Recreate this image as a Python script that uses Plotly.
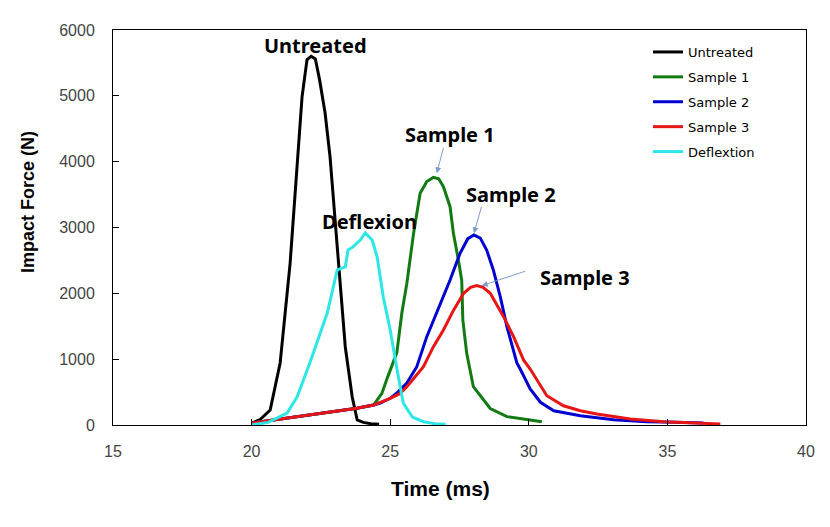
import plotly.graph_objects as go

# ---- data ----
untreated_t = [20.0, 20.3, 20.67, 21.03, 21.39, 21.68, 21.82, 22.0, 22.15, 22.3, 22.45, 22.65, 22.83, 23.09, 23.38, 23.63, 23.81, 24.03, 24.3, 24.6]
untreated_f = [30, 80, 228, 942, 2460, 4225, 4985, 5550, 5600, 5560, 5250, 4742, 4073, 2705, 1185, 425, 76, 40, 20, 10]

sample1_t = [20.0, 21.0, 22.0, 23.0, 23.8, 24.4, 24.7, 24.9, 25.24, 25.42, 25.6, 25.84, 26.08, 26.32, 26.56, 26.75, 26.92, 27.16, 27.28, 27.46, 27.58, 27.62, 27.76, 28.0, 28.25, 28.61, 29.21, 30.05, 30.47]
sample1_f = [30, 90, 150, 200, 253, 303, 480, 720, 1100, 1700, 2150, 2900, 3520, 3697, 3762, 3740, 3620, 3316, 2912, 2507, 2200, 1595, 1089, 582, 450, 250, 127, 76, 50]

sample2_t = [20.0, 21.0, 22.0, 23.0, 23.8, 24.4, 24.64, 25.0, 25.24, 25.6, 25.96, 26.32, 26.68, 26.92, 27.16, 27.52, 27.8, 28.02, 28.25, 28.48, 28.72, 28.97, 29.21, 29.57, 29.69, 30.05, 30.42, 30.9, 31.86, 33.06, 34.26, 35.3, 36.3]
sample2_f = [30, 90, 150, 200, 253, 303, 334, 405, 486, 638, 886, 1342, 1700, 1949, 2203, 2608, 2830, 2886, 2840, 2658, 2355, 1949, 1494, 942, 850, 547, 345, 217, 142, 80, 50, 40, 30]

sample3_t = [20.0, 21.0, 22.0, 23.0, 23.8, 24.4, 25.0, 25.36, 25.6, 26.2, 26.56, 26.92, 27.29, 27.65, 27.9, 28.12, 28.35, 28.61, 29.09, 29.45, 29.81, 30.05, 30.65, 31.25, 31.86, 32.46, 33.66, 34.87, 36.0, 36.91]
sample3_f = [30, 90, 150, 200, 253, 303, 405, 480, 582, 886, 1190, 1444, 1748, 2001, 2090, 2117, 2090, 2001, 1646, 1342, 988, 850, 444, 292, 217, 167, 91, 50, 30, 15]

deflexion_t = [20.0, 20.6, 21.28, 21.64, 22.1, 22.73, 23.09, 23.25, 23.38, 23.48, 23.66, 23.92, 24.1, 24.35, 24.53, 24.75, 25.0, 25.25, 25.47, 25.8, 26.2, 26.6, 27.0]
deflexion_f = [0, 40, 180, 425, 942, 1700, 2355, 2380, 2400, 2660, 2705, 2810, 2918, 2810, 2553, 1945, 1444, 835, 334, 120, 50, 20, 10]

series_names = ["Untreated", "Sample 1", "Sample 2", "Sample 3", "Deflextion"]
series_colors = ["#000000", "#127a12", "#0000d0", "#e81515", "#2ee6e6"]

x_ticks = [15, 20, 25, 30, 35, 40]
y_ticks = [0, 1000, 2000, 3000, 4000, 5000, 6000]

# labels on the plot: (text, x, y)
peak_labels = [("Untreated", 22.32, 5772), ("Deflexion", 24.24, 3084),
               ("Sample 1", 27.16, 4420), ("Sample 2", 29.36, 3494), ("Sample 3", 32.03, 2248)]
# arrows: tip (x, y) and tail offset in pixels
arrows = [(26.68, 3823, 7, -27), (28.02, 2912, 8, -28), (28.3, 2116, 45, -15)]

data = [(untreated_t, untreated_f), (sample1_t, sample1_f), (sample2_t, sample2_f),
        (sample3_t, sample3_f), (deflexion_t, deflexion_f)]

# page body has an 8px margin, so the plot is placed 8px up/left
PX0, PY0 = 105, 22          # left / top of plot area within the figure
PW, PH = 693, 395

fig = go.Figure()
for (t, f), name, col in zip(data, series_names, series_colors):
    fig.add_trace(go.Scatter(x=t, y=f, mode="lines", name=name, legendgroup=name,
                             line=dict(color=col, width=3)))

for text, x, y in peak_labels:
    fig.add_annotation(x=x, y=y, text="<b>" + text + "</b>", showarrow=False,
                       font=dict(family="Noto Sans, Open Sans, sans-serif", size=20, color="#000"),
                       xanchor="center", yanchor="middle")
for x, y, ax, ay in arrows:
    fig.add_annotation(x=x, y=y, ax=ax, ay=ay, text="", showarrow=True,
                       arrowhead=2, arrowsize=1.2, arrowwidth=1, arrowcolor="#7f9cc8")

# axis titles as annotations (placed as in the reference)
fig.add_annotation(xref="paper", yref="paper", x=(440 - 113) / PW, y=(425 - 488) / PH,
                   text="<b>Time (ms)</b>", showarrow=False,
                   font=dict(family="Liberation Sans Narrow, Arial Narrow, Liberation Sans, Arial", size=21, color="#000"),
                   xanchor="center", yanchor="middle")
fig.add_annotation(xref="paper", yref="paper", x=(28 - 113) / PW, y=(425 - 202) / PH,
                   text="<b>Impact Force (N)</b>", showarrow=False, textangle=-90,
                   font=dict(family="Liberation Sans, Arial", size=18, color="#000"),
                   xanchor="center", yanchor="middle")

axis_common = dict(showline=True, linecolor="#000", linewidth=1, mirror=True,
                   ticks="inside", ticklen=6, tickcolor="#000", showgrid=False, zeroline=False,
                   tickfont=dict(family="Liberation Sans, Arial", size=16, color="#444"))
fig.update_xaxes(range=[15, 40], tickvals=x_ticks, ticklabelstandoff=12, **axis_common)
fig.update_yaxes(range=[0, 6000], tickvals=y_ticks, ticklabelstandoff=14, **axis_common)

fig.update_layout(
    width=830, height=527,
    margin=dict(l=PX0, r=830 - PX0 - PW, t=PY0, b=527 - PY0 - PH),
    paper_bgcolor="white", plot_bgcolor="white",
    showlegend=True,
    legend=dict(x=(648 - 113) / PW, y=(425 - 37) / PH, xanchor="left", yanchor="top",
                bgcolor="rgba(0,0,0,0)", traceorder="grouped", tracegroupgap=5,
                font=dict(family="DejaVu Sans", size=13, color="#000")),
)

fig.write_html("out.html")
